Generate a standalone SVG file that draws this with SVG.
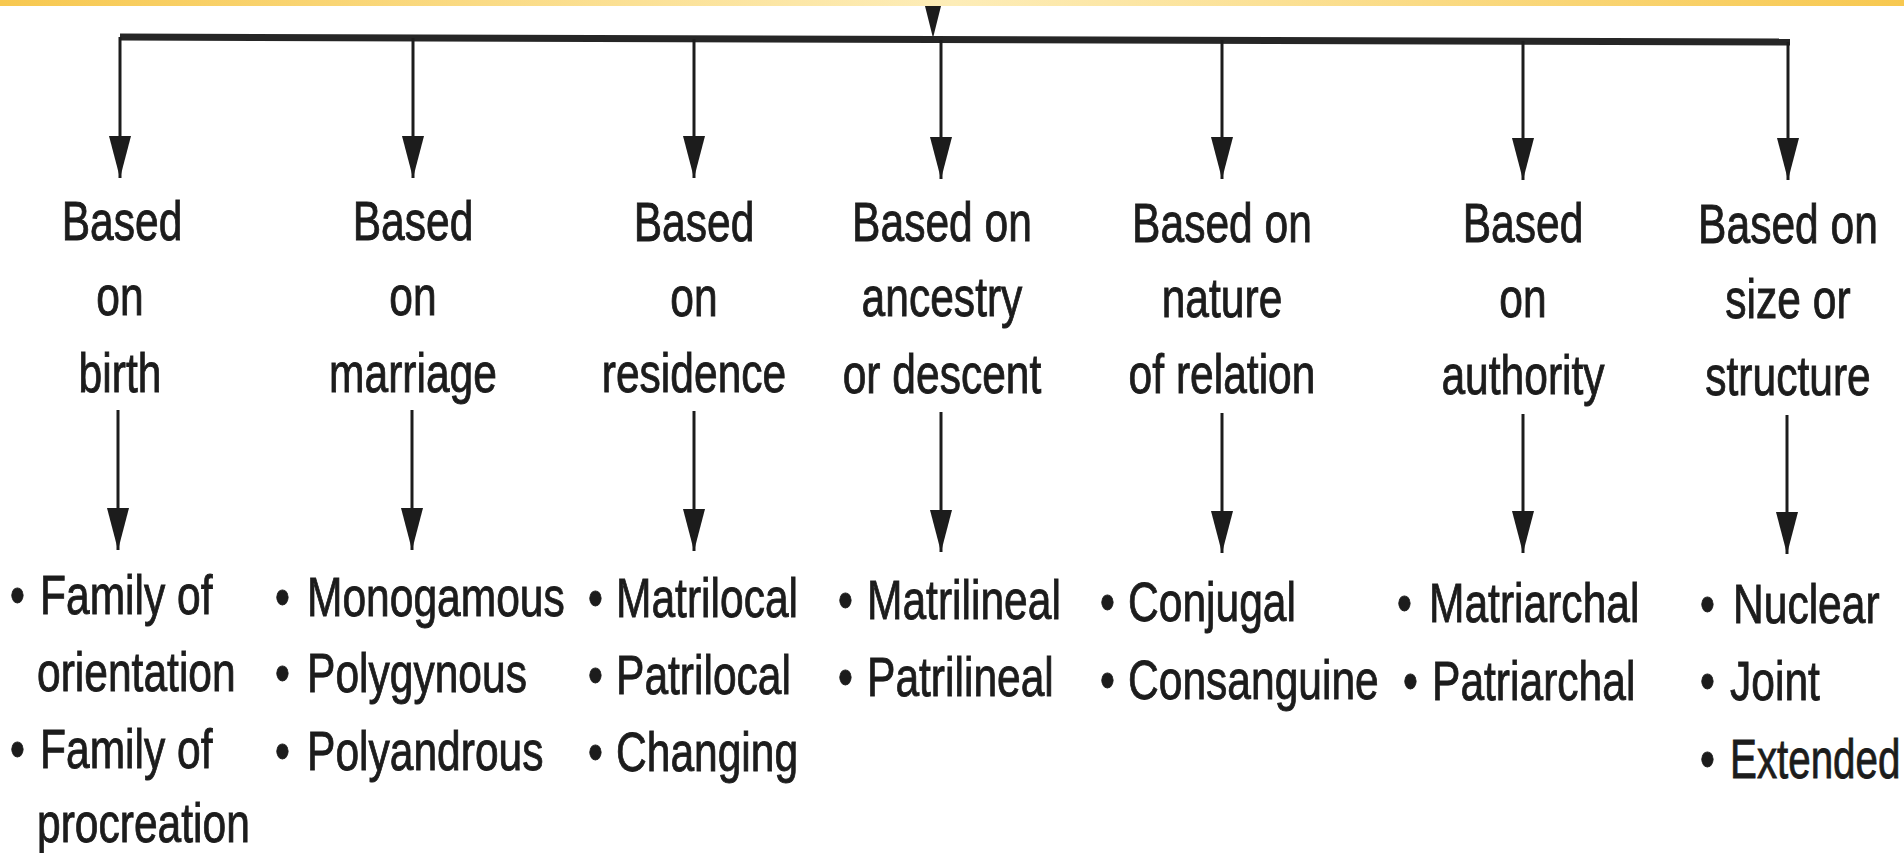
<svg xmlns="http://www.w3.org/2000/svg" width="1904" height="853" viewBox="0 0 1904 853">
<style>
.t{font-family:"Liberation Sans",Arial,sans-serif;font-size:56px;fill:#1c1c1c;stroke:#1c1c1c;stroke-width:0.9px}
.c{text-anchor:middle}
.ln{stroke:#1c1c1c;stroke-width:3;fill:none}
.bar{stroke:#262626;stroke-width:7;fill:none}
</style>
<defs>
<linearGradient id="band" x1="0" y1="0" x2="1" y2="0">
<stop offset="0" stop-color="#F7C850"/>
<stop offset="0.5" stop-color="#FDEDB8"/>
<stop offset="1" stop-color="#F7C850"/>
</linearGradient>
<marker id="ah" markerUnits="userSpaceOnUse" markerWidth="42" markerHeight="22" refX="42" refY="11" orient="auto" viewBox="0 0 42 22">
<path d="M0,0 L42,11 L0,22 z" fill="#1c1c1c"/>
</marker>
</defs>
<rect x="0" y="0" width="1904" height="853" fill="#ffffff"/>
<g id="connectors">
<polygon points="924,2 942,2 933,38" fill="#1c1c1c"/>
<path class="bar" d="M120,37 L1790,42"/>
<path class="ln" d="M120,37 V178" marker-end="url(#ah)"/>
<path class="ln" d="M413,38 V178" marker-end="url(#ah)"/>
<path class="ln" d="M694,39 V178" marker-end="url(#ah)"/>
<path class="ln" d="M941,40 V179" marker-end="url(#ah)"/>
<path class="ln" d="M1222,40 V179" marker-end="url(#ah)"/>
<path class="ln" d="M1523,41 V180" marker-end="url(#ah)"/>
<path class="ln" d="M1788,42 V180" marker-end="url(#ah)"/>
<path class="ln" d="M118,410 V550" marker-end="url(#ah)"/>
<path class="ln" d="M412,410 V550" marker-end="url(#ah)"/>
<path class="ln" d="M694,411 V551" marker-end="url(#ah)"/>
<path class="ln" d="M941,412 V552" marker-end="url(#ah)"/>
<path class="ln" d="M1222,413 V553" marker-end="url(#ah)"/>
<path class="ln" d="M1523,414 V553" marker-end="url(#ah)"/>
<path class="ln" d="M1787,415 V554" marker-end="url(#ah)"/>
</g>
<rect id="banner" x="0" y="0" width="1904" height="6" fill="url(#band)"/>
<g id="label-birth">
<text class="t c" transform="matrix(0.76 0 0 1 122 240)">Based</text>
<text class="t c" transform="matrix(0.76 0 0 1 120 315)">on</text>
<text class="t c" transform="matrix(0.76 0 0 1 120 392)">birth</text>
</g>
<g id="label-marriage">
<text class="t c" transform="matrix(0.76 0 0 1 413 240)">Based</text>
<text class="t c" transform="matrix(0.76 0 0 1 413 315)">on</text>
<text class="t c" transform="matrix(0.76 0 0 1 413 392)">marriage</text>
</g>
<g id="label-residence">
<text class="t c" transform="matrix(0.76 0 0 1 694 241)">Based</text>
<text class="t c" transform="matrix(0.76 0 0 1 694 316)">on</text>
<text class="t c" transform="matrix(0.76 0 0 1 694 392)">residence</text>
</g>
<g id="label-ancestry">
<text class="t c" transform="matrix(0.76 0 0 1 942 241)">Based on</text>
<text class="t c" transform="matrix(0.76 0 0 1 942 316)">ancestry</text>
<text class="t c" transform="matrix(0.76 0 0 1 942 393)">or descent</text>
</g>
<g id="label-relation">
<text class="t c" transform="matrix(0.76 0 0 1 1222 242)">Based on</text>
<text class="t c" transform="matrix(0.76 0 0 1 1222 317)">nature</text>
<text class="t c" transform="matrix(0.76 0 0 1 1222 393)">of relation</text>
</g>
<g id="label-authority">
<text class="t c" transform="matrix(0.76 0 0 1 1523 242)">Based</text>
<text class="t c" transform="matrix(0.76 0 0 1 1523 317)">on</text>
<text class="t c" transform="matrix(0.76 0 0 1 1523 394)">authority</text>
</g>
<g id="label-size">
<text class="t c" transform="matrix(0.76 0 0 1 1788 243)">Based on</text>
<text class="t c" transform="matrix(0.76 0 0 1 1788 318)">size or</text>
<text class="t c" transform="matrix(0.76 0 0 1 1788 395)">structure</text>
</g>
<g id="items-birth">
<text class="t" transform="matrix(0.76 0 0 1 10 614)">•</text>
<text class="t" transform="matrix(0.76 0 0 1 40 614)">Family of</text>
<text class="t" transform="matrix(0.76 0 0 1 37 691)">orientation</text>
<text class="t" transform="matrix(0.76 0 0 1 10 768)">•</text>
<text class="t" transform="matrix(0.76 0 0 1 40 768)">Family of</text>
<text class="t" transform="matrix(0.76 0 0 1 37 842)">procreation</text>
</g>
<g id="items-marriage">
<text class="t" transform="matrix(0.76 0 0 1 275 616)">•</text>
<text class="t" transform="matrix(0.76 0 0 1 307 616)">Monogamous</text>
<text class="t" transform="matrix(0.76 0 0 1 275 692)">•</text>
<text class="t" transform="matrix(0.76 0 0 1 307 692)">Polygynous</text>
<text class="t" transform="matrix(0.76 0 0 1 275 770)">•</text>
<text class="t" transform="matrix(0.76 0 0 1 307 770)">Polyandrous</text>
</g>
<g id="items-residence">
<text class="t" transform="matrix(0.76 0 0 1 588 617)">•</text>
<text class="t" transform="matrix(0.76 0 0 1 616 617)">Matrilocal</text>
<text class="t" transform="matrix(0.76 0 0 1 588 694)">•</text>
<text class="t" transform="matrix(0.76 0 0 1 616 694)">Patrilocal</text>
<text class="t" transform="matrix(0.76 0 0 1 588 771)">•</text>
<text class="t" transform="matrix(0.76 0 0 1 616 771)">Changing</text>
</g>
<g id="items-ancestry">
<text class="t" transform="matrix(0.76 0 0 1 838 619)">•</text>
<text class="t" transform="matrix(0.76 0 0 1 867 619)">Matrilineal</text>
<text class="t" transform="matrix(0.76 0 0 1 838 696)">•</text>
<text class="t" transform="matrix(0.76 0 0 1 867 696)">Patrilineal</text>
</g>
<g id="items-relation">
<text class="t" transform="matrix(0.76 0 0 1 1100 621)">•</text>
<text class="t" transform="matrix(0.76 0 0 1 1128 621)">Conjugal</text>
<text class="t" transform="matrix(0.76 0 0 1 1100 699)">•</text>
<text class="t" transform="matrix(0.76 0 0 1 1128 699)">Consanguine</text>
</g>
<g id="items-authority">
<text class="t" transform="matrix(0.76 0 0 1 1397 622)">•</text>
<text class="t" transform="matrix(0.76 0 0 1 1429 622)">Matriarchal</text>
<text class="t" transform="matrix(0.76 0 0 1 1403 700)">•</text>
<text class="t" transform="matrix(0.76 0 0 1 1432 700)">Patriarchal</text>
</g>
<g id="items-size">
<text class="t" transform="matrix(0.76 0 0 1 1700 623)">•</text>
<text class="t" transform="matrix(0.76 0 0 1 1733 623)">Nuclear</text>
<text class="t" transform="matrix(0.76 0 0 1 1700 700)">•</text>
<text class="t" transform="matrix(0.76 0 0 1 1730 700)">Joint</text>
<text class="t" transform="matrix(0.76 0 0 1 1700 778)">•</text>
<text class="t" transform="matrix(0.72 0 0 1 1730 778)">Extended</text>
</g>
</svg>
